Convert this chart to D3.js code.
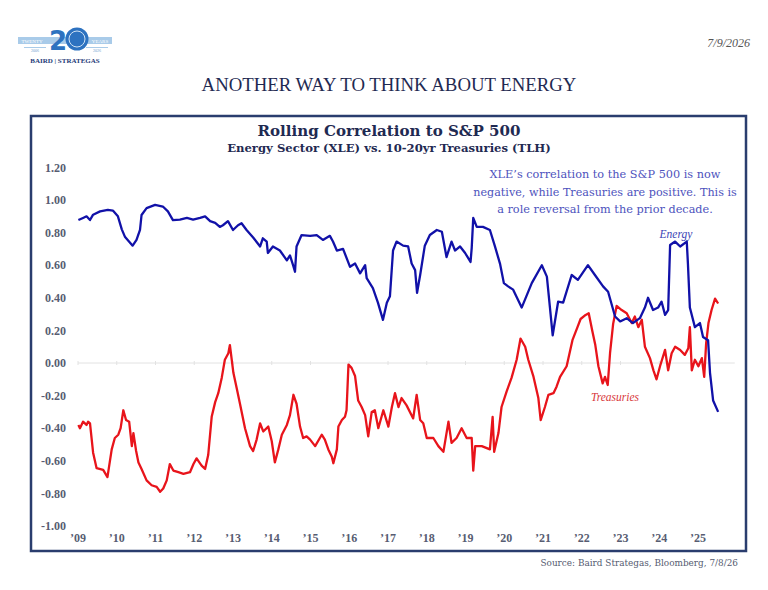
<!DOCTYPE html>
<html lang="en">
  <head>
    <meta charset="UTF-8" />
    <title>Rolling Correlation to S&amp;P 500</title>
    <script src="https://d3js.org/d3.v7.min.js"></script>
    <style>
      body { margin: 0; background: #fff; }
      svg text { font-family: "Liberation Serif", "Times New Roman", serif; }
      svg text.cam { font-family: "DejaVu Serif", "Liberation Serif", serif; }
    </style>
  </head>
  <body>
    <div id="chart"></div>
    <script>
      // decimal years and rolling correlation values
      const energyYears = [
        2009.01, 2009.13, 2009.22, 2009.31, 2009.39, 2009.57, 2009.77, 2009.9,
        2010.03, 2010.13, 2010.21, 2010.41, 2010.51, 2010.6, 2010.64, 2010.77,
        2010.99, 2011.19, 2011.32, 2011.45, 2011.63, 2011.81, 2011.97, 2012.15,
        2012.28, 2012.41, 2012.54, 2012.66, 2012.74, 2012.87, 2013.0, 2013.13,
        2013.22, 2013.35, 2013.52, 2013.7, 2013.77, 2013.87, 2013.9, 2014.03,
        2014.21, 2014.39, 2014.47, 2014.55, 2014.6, 2014.64, 2014.77, 2014.99,
        2015.16, 2015.32, 2015.5, 2015.58, 2015.68, 2015.84, 2016.02, 2016.15,
        2016.28, 2016.41, 2016.45, 2016.61, 2016.74, 2016.87, 2016.97, 2017.05,
        2017.13, 2017.22, 2017.39, 2017.52, 2017.61, 2017.7, 2017.75, 2017.83,
        2017.95, 2018.08, 2018.26, 2018.39, 2018.51, 2018.64, 2018.73, 2018.86,
        2018.99, 2019.13, 2019.16, 2019.2, 2019.29, 2019.45, 2019.63, 2019.76,
        2019.89, 2019.99, 2020.1, 2020.23, 2020.45, 2020.71, 2020.97, 2021.1,
        2021.25, 2021.39, 2021.52, 2021.74, 2021.9, 2022.16, 2022.34, 2022.55,
        2022.68, 2022.86, 2022.99, 2023.16, 2023.32, 2023.5, 2023.63, 2023.71,
        2023.84, 2023.97, 2024.06, 2024.15, 2024.23, 2024.28, 2024.41, 2024.54,
        2024.71, 2024.74, 2024.79, 2024.92, 2025.05, 2025.13, 2025.26, 2025.31,
        2025.39, 2025.52
      ];
      const energyValues = [
        0.877, 0.89, 0.9, 0.877, 0.91, 0.93, 0.94, 0.935,
        0.9, 0.82, 0.775, 0.72, 0.755, 0.816, 0.908, 0.95,
        0.97, 0.96, 0.93, 0.877, 0.88, 0.89, 0.88, 0.89,
        0.9, 0.87, 0.86, 0.835, 0.845, 0.87, 0.816, 0.845,
        0.857, 0.816, 0.77, 0.715, 0.765, 0.745, 0.675, 0.715,
        0.69, 0.63, 0.66, 0.6, 0.56, 0.715, 0.785, 0.78,
        0.785, 0.755, 0.78, 0.745, 0.69, 0.7, 0.59, 0.61,
        0.55, 0.6, 0.52, 0.46, 0.37, 0.265, 0.37, 0.41,
        0.69, 0.745, 0.72, 0.715, 0.61, 0.57, 0.43, 0.54,
        0.72, 0.785, 0.816, 0.805, 0.65, 0.745, 0.69, 0.715,
        0.675, 0.62, 0.705, 0.89, 0.835, 0.835, 0.816, 0.715,
        0.61, 0.49, 0.47, 0.45, 0.34, 0.49, 0.6, 0.53,
        0.17, 0.376, 0.37, 0.54, 0.51, 0.6, 0.54, 0.47,
        0.437, 0.285, 0.255, 0.275, 0.245, 0.275, 0.34, 0.4,
        0.325, 0.34, 0.376, 0.295, 0.325, 0.724, 0.745, 0.715,
        0.745, 0.61, 0.34, 0.22, 0.245, 0.16, 0.14, -0.06,
        -0.23, -0.3
      ];
      const treasuryYears = [
        2009.01, 2009.05, 2009.13, 2009.22, 2009.26, 2009.31, 2009.39, 2009.48,
        2009.65, 2009.76, 2009.87, 2009.95, 2010.04, 2010.1, 2010.17, 2010.24,
        2010.32, 2010.39, 2010.43, 2010.5, 2010.56, 2010.64, 2010.77, 2010.9,
        2011.03, 2011.12, 2011.2, 2011.29, 2011.37, 2011.46, 2011.59, 2011.72,
        2011.89, 2011.98, 2012.06, 2012.19, 2012.28, 2012.36, 2012.45, 2012.54,
        2012.62, 2012.71, 2012.79, 2012.88, 2012.92, 2013.01, 2013.1, 2013.18,
        2013.31, 2013.44, 2013.52, 2013.61, 2013.7, 2013.78, 2013.91, 2014.0,
        2014.08, 2014.17, 2014.26, 2014.39, 2014.47, 2014.56, 2014.64, 2014.73,
        2014.81, 2014.9, 2014.99, 2015.12, 2015.29, 2015.37, 2015.46, 2015.55,
        2015.59, 2015.68, 2015.72, 2015.81, 2015.89, 2015.93, 2015.98, 2016.06,
        2016.15, 2016.23, 2016.32, 2016.41, 2016.49, 2016.58, 2016.66, 2016.75,
        2016.88, 2017.01, 2017.1, 2017.18, 2017.27, 2017.35, 2017.48, 2017.65,
        2017.74, 2017.83, 2017.91, 2018.0, 2018.17, 2018.3, 2018.43, 2018.56,
        2018.64, 2018.77, 2018.9, 2019.03, 2019.16, 2019.2, 2019.25, 2019.42,
        2019.63, 2019.7, 2019.74, 2019.85, 2019.93, 2020.06, 2020.19, 2020.32,
        2020.42, 2020.54, 2020.62, 2020.75, 2020.88, 2020.94, 2021.05, 2021.14,
        2021.27, 2021.35, 2021.44, 2021.61, 2021.76, 2021.89, 2021.97, 2022.1,
        2022.18, 2022.27, 2022.35, 2022.43, 2022.54, 2022.6, 2022.67, 2022.73,
        2022.81, 2022.9, 2023.03, 2023.16, 2023.29, 2023.37, 2023.46, 2023.55,
        2023.63, 2023.76, 2023.85, 2023.93, 2024.02, 2024.15, 2024.23, 2024.32,
        2024.41, 2024.54, 2024.66, 2024.75, 2024.79, 2024.84, 2024.92, 2025.01,
        2025.1, 2025.16, 2025.21, 2025.27, 2025.35, 2025.44, 2025.52
      ];
      const treasuryValues = [
        -0.38, -0.4, -0.36, -0.38, -0.36, -0.37, -0.55, -0.645,
        -0.656, -0.7, -0.53, -0.46, -0.44, -0.4, -0.29, -0.35,
        -0.36, -0.51, -0.43, -0.54, -0.61, -0.65, -0.72, -0.75,
        -0.76, -0.79, -0.77, -0.72, -0.62, -0.66, -0.67, -0.68,
        -0.67, -0.62, -0.585, -0.63, -0.65, -0.565, -0.33, -0.24,
        -0.185, -0.09, 0.02, 0.06, 0.11, -0.06, -0.16, -0.25,
        -0.4, -0.51, -0.54, -0.47, -0.37, -0.42, -0.39, -0.48,
        -0.61, -0.53, -0.44, -0.38, -0.32, -0.195, -0.25, -0.39,
        -0.46, -0.45, -0.47, -0.51, -0.44, -0.47, -0.53, -0.575,
        -0.615, -0.53, -0.39, -0.35, -0.33, -0.29, -0.01, -0.03,
        -0.08, -0.23, -0.27, -0.32, -0.45, -0.3, -0.29, -0.4,
        -0.29, -0.39, -0.27, -0.185, -0.27, -0.215, -0.26, -0.34,
        -0.195, -0.35, -0.37, -0.46, -0.46, -0.51, -0.545, -0.36,
        -0.49, -0.46, -0.4, -0.46, -0.46, -0.66, -0.51, -0.51,
        -0.53, -0.33, -0.545, -0.43, -0.27, -0.175, -0.09, 0.02,
        0.15, 0.1, 0.02, -0.08, -0.215, -0.35, -0.27, -0.195,
        -0.185, -0.145, -0.085, -0.02, 0.14, 0.22, 0.27, 0.295,
        0.305, 0.2, 0.11, -0.02, -0.125, -0.085, -0.135, 0.06,
        0.24, 0.35, 0.325, 0.305, 0.245, 0.285, 0.22, 0.265,
        0.1, 0.03, -0.045, -0.1, -0.02, 0.08, -0.045, 0.06,
        0.1, 0.08, 0.05, 0.09, 0.22, -0.045, 0.02, -0.02,
        0.03, -0.085, 0.12, 0.245, 0.325, 0.395, 0.365
      ];
      const yearTicks = d3.range(2009, 2026);
      const yTicks = [1.2, 1.0, 0.8, 0.6, 0.4, 0.2, 0.0, -0.2, -0.4, -0.6, -0.8, -1.0];
      const noteLines = [
        "XLE\u2019s correlation to the S&P 500 is now",
        "negative, while Treasuries are positive. This is",
        "a role reversal from the prior decade."
      ];

      const width = 768;
      const height = 590;
      const navy = "#1f2a52";
      const labelGrey = "#575d72";

      const svg = d3
        .select("#chart")
        .append("svg")
        .attr("width", width)
        .attr("height", height);

      // scale a text's font so it spans roughly the width seen in the picture
      function fitWidth(sel, target) {
        const size = parseFloat(sel.style("font-size"));
        const len = sel.node().getComputedTextLength();
        if (len > 0) sel.style("font-size", (size * target) / len + "px");
        return sel;
      }

      // ---- header: logo, date, headline ----
      const logo = svg.append("g").attr("transform", "translate(18,24)");
      logo.append("rect").attr("x", 0).attr("y", 13).attr("width", 94).attr("height", 7).attr("fill", "#a9cbe9");
      logo.append("rect").attr("x", 6).attr("y", 23).attr("width", 22).attr("height", 1).attr("fill", "#a9cbe9");
      logo.append("rect").attr("x", 68).attr("y", 23).attr("width", 22).attr("height", 1).attr("fill", "#a9cbe9");
      logo.append("text").attr("x", 14).attr("y", 18.5).attr("text-anchor", "middle")
        .style("font-size", "5px").attr("fill", "#fff").text("TWENTY");
      logo.append("text").attr("x", 82).attr("y", 18.5).attr("text-anchor", "middle")
        .style("font-size", "5px").attr("fill", "#fff").text("YEARS");
      logo.append("text").attr("x", 17).attr("y", 28).attr("text-anchor", "middle")
        .style("font-size", "4px").attr("fill", "#6d9fd0").text("2006");
      logo.append("text").attr("x", 79).attr("y", 28).attr("text-anchor", "middle")
        .style("font-size", "4px").attr("fill", "#6d9fd0").text("2026");
      logo.append("text").attr("x", 40).attr("y", 26).attr("text-anchor", "middle")
        .style("font-family", "'DejaVu Sans', sans-serif").style("font-size", "26px")
        .style("font-weight", "bold").attr("fill", "#2d72c0").text("2");
      logo.append("circle").attr("cx", 59).attr("cy", 15).attr("r", 11.5).attr("fill", "#2d72c0");
      logo.append("circle").attr("cx", 59).attr("cy", 15).attr("r", 8).attr("fill", "none")
        .attr("stroke", "#cfe2f4").attr("stroke-width", 1);
      logo.append("text").attr("x", 47).attr("y", 39).attr("text-anchor", "middle")
        .style("font-size", "7px").style("font-weight", "bold").attr("fill", "#243a78")
        .text("BAIRD | STRATEGAS");

      svg.append("text").attr("x", 750).attr("y", 47).attr("text-anchor", "end")
        .style("font-size", "12px").style("font-style", "italic").attr("fill", "#555")
        .text("7/9/2026");

      fitWidth(
        svg.append("text").attr("x", 389).attr("y", 91).attr("text-anchor", "middle")
          .style("font-size", "18px").attr("fill", navy)
          .text("ANOTHER WAY TO THINK ABOUT ENERGY"),
        375
      );

      // ---- chart frame and titles ----
      svg.append("rect").attr("x", 31).attr("y", 116).attr("width", 715).attr("height", 435)
        .attr("fill", "none").attr("stroke", "#2a3d6e").attr("stroke-width", 2.5);

      fitWidth(
        svg.append("text").attr("class", "cam").attr("x", 389).attr("y", 136).attr("text-anchor", "middle")
          .style("font-size", "14px").style("font-weight", "bold").attr("fill", navy)
          .text("Rolling Correlation to S&P 500"),
        263
      );
      fitWidth(
        svg.append("text").attr("class", "cam").attr("x", 389).attr("y", 152).attr("text-anchor", "middle")
          .style("font-size", "10.5px").style("font-weight", "bold").attr("fill", navy)
          .text("Energy Sector (XLE) vs. 10-20yr Treasuries (TLH)"),
        324
      );

      // ---- scales ----
      const x = d3.scaleLinear().domain([2009, 2026]).range([78, 736.75]);
      const y = d3.scaleLinear().domain([-1, 1.2]).range([526, 167.4]);

      // y labels
      svg.append("g")
        .selectAll("text")
        .data(yTicks)
        .join("text")
        .attr("x", 66)
        .attr("y", (d) => y(d))
        .attr("dy", "0.35em")
        .attr("text-anchor", "end")
        .style("font-size", "12px")
        .style("font-weight", "bold")
        .attr("fill", labelGrey)
        .text((d) => d3.format(".2f")(d).replace("\u2212", "-"));

      // x labels
      svg.append("g")
        .selectAll("text")
        .data(yearTicks)
        .join("text")
        .attr("x", (d) => x(d))
        .attr("y", 542)
        .attr("text-anchor", "middle")
        .style("font-size", "12px")
        .style("font-weight", "bold")
        .attr("fill", labelGrey)
        .text((d) => "\u2019" + String(d).slice(2));

      // zero line with small year ticks
      svg.append("line")
        .attr("x1", x(2009)).attr("x2", x(2026) - 2)
        .attr("y1", y(0)).attr("y2", y(0))
        .attr("stroke", "#e2e2e2").attr("stroke-width", 1);
      svg.append("g")
        .selectAll("line")
        .data(yearTicks)
        .join("line")
        .attr("x1", (d) => x(d)).attr("x2", (d) => x(d))
        .attr("y1", y(0) - 2).attr("y2", y(0) + 2)
        .attr("stroke", "#e2e2e2");

      // ---- series ----
      const line = d3.line().x((d) => x(d[0])).y((d) => y(d[1]));

      svg.append("path")
        .datum(d3.zip(treasuryYears, treasuryValues))
        .attr("d", line)
        .attr("fill", "none")
        .attr("stroke", "#e8141b")
        .attr("stroke-width", 2.3)
        .attr("stroke-linejoin", "round");

      svg.append("path")
        .datum(d3.zip(energyYears, energyValues))
        .attr("d", line)
        .attr("fill", "none")
        .attr("stroke", "#1111a8")
        .attr("stroke-width", 2.3)
        .attr("stroke-linejoin", "round");

      // series labels
      svg.append("text").attr("x", 676).attr("y", 238).attr("text-anchor", "middle")
        .style("font-size", "11.5px").style("font-style", "italic").attr("fill", "#3b45b5")
        .text("Energy");
      svg.append("text").attr("x", 615).attr("y", 401).attr("text-anchor", "middle")
        .style("font-size", "11.5px").style("font-style", "italic").attr("fill", "#d8383b")
        .text("Treasuries");

      // annotation
      const noteWidths = [231, 264, 216];
      svg.append("g")
        .selectAll("text")
        .data(noteLines)
        .join("text")
        .attr("class", "cam")
        .attr("x", 605)
        .attr("y", (d, i) => 178 + i * 17.5)
        .attr("text-anchor", "middle")
        .style("font-size", "10.5px")
        .attr("fill", "#4d52bd")
        .text((d) => d)
        .each(function (d, i) {
          fitWidth(d3.select(this), noteWidths[i]);
        });

      // source
      fitWidth(
        svg.append("text").attr("class", "cam").attr("x", 738).attr("y", 566).attr("text-anchor", "end")
          .style("font-size", "10px").attr("fill", "#555b70")
          .text("Source: Baird Strategas, Bloomberg, 7/8/26"),
        198
      );
    </script>
  </body>
</html>
